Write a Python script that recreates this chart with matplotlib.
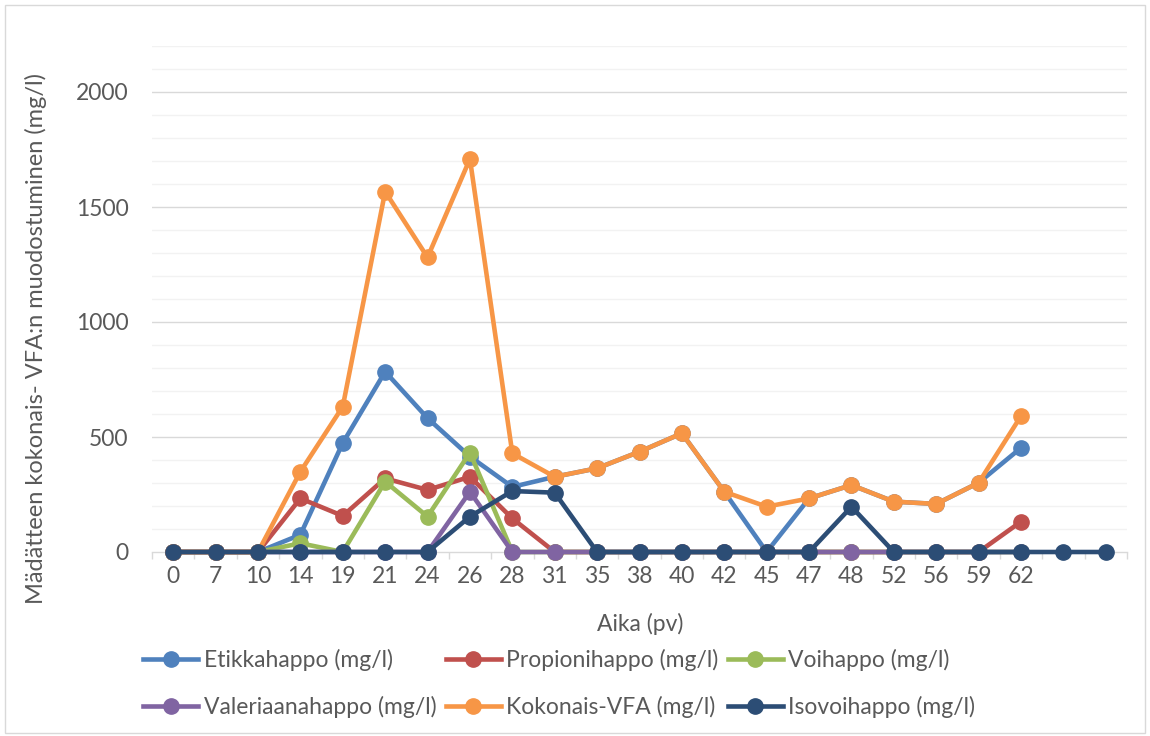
import matplotlib
matplotlib.use("Agg")
import matplotlib.pyplot as plt
from matplotlib.patches import Rectangle
from matplotlib.ticker import FixedLocator

plt.rcParams['font.family'] = ['Lato', 'DejaVu Sans']

# Sampling days (two trailing unlabeled slots)
categories = ["0", "7", "10", "14", "19", "21", "24", "26", "28", "31", "35",
              "38", "40", "42", "45", "47", "48", "52", "56", "59", "62", "", ""]

etikkahappo = [0, 0, 0, 75, 474, 784, 582, 415, 283, 327, 364, 436, 516, 262,
               0, 233, 291, 219, 209, 301, 453]
propionihappo = [0, 0, 0, 233, 157, 320, 270, 327, 146, 0, 0, 0, 0, 0,
                 0, 0, 0, 0, 0, 0, 132]
voihappo = [0, 0, 0, 38, 0, 306, 154, 432, 0, 0, 0, 0, 0, 0,
            0, 0, 0, 0, 0, 0, 0]
valeriaanahappo = [0, 0, 0, 0, 0, 0, 0, 262, 0, 0, 0, 0, 0, 0,
                   0, 0, 0, 0, 0, 0, 0]
kokonais_vfa = [0, 0, 0, 349, 632, 1567, 1281, 1709, 429, 327, 364, 436, 516, 262,
                197, 233, 291, 219, 209, 301, 591]
isovoihappo = [0, 0, 0, 0, 0, 0, 0, 154, 265, 258, 0, 0, 0, 0,
               0, 0, 197, 0, 0, 0, 0, 0, 0]

series = [
    ("Etikkahappo (mg/l)", etikkahappo, "#4F81BD"),
    ("Propionihappo (mg/l)", propionihappo, "#C0504D"),
    ("Voihappo (mg/l)", voihappo, "#9BBB59"),
    ("Valeriaanahappo (mg/l)", valeriaanahappo, "#8064A2"),
    ("Kokonais-VFA (mg/l)", kokonais_vfa, "#F79646"),
    ("Isovoihappo (mg/l)", isovoihappo, "#2C4D75"),
]

FS = 16.5
TXT = "#595959"

W, H = 1150, 736
fig = plt.figure(figsize=(W / 100, H / 100), dpi=100)
ax = fig.add_axes([152 / W, 1 - 552 / H, (1127 - 152) / W, (552 - 46) / H])

handles = {}
for name, vals, col in series:
    x = list(range(len(vals)))
    h, = ax.plot(x, vals, color=col, lw=3.3, marker="o", ms=11,
                 markerfacecolor=col, markeredgecolor=col, label=name,
                 solid_joinstyle="round", clip_on=False)
    handles[name] = h

ax.set_xlim(-0.5, len(categories) - 0.5)
ax.set_ylim(0, 2200)

# gridlines: light every 100, stronger every 500
for v in range(100, 2201, 100):
    if v % 500 == 0:
        ax.axhline(v, color="#D9D9D9", lw=1.0, zorder=0)
    else:
        ax.axhline(v, color="#F2F2F2", lw=1.0, zorder=0)

ax.set_yticks([0, 500, 1000, 1500, 2000])
ax.set_xticks(range(len(categories)))
ax.set_xticklabels(categories)
ax.xaxis.set_minor_locator(FixedLocator([i - 0.5 for i in range(len(categories) + 1)]))
ax.tick_params(axis="x", which="major", length=0, pad=10, labelsize=FS, labelcolor=TXT)
ax.tick_params(axis="x", which="minor", length=5, color="#D9D9D9", width=1)
ax.tick_params(axis="y", which="both", length=0, pad=17, labelsize=FS, labelcolor=TXT)

for s in ["top", "right", "left"]:
    ax.spines[s].set_visible(False)
ax.spines["bottom"].set_color("#D9D9D9")
ax.spines["bottom"].set_linewidth(1.0)
ax.spines["bottom"].set_zorder(0.5)

fig.text(640 / W, 1 - 624 / H, "Aika (pv)", ha="center", va="center",
         fontsize=FS, color=TXT)
fig.text(36 / W, 1 - 338 / H, "Mädätteen kokonais- VFA:n muodostuminen (mg/l)",
         ha="center", va="center", rotation=90, fontsize=17, color=TXT)

order = ["Etikkahappo (mg/l)", "Valeriaanahappo (mg/l)", "Propionihappo (mg/l)",
         "Kokonais-VFA (mg/l)", "Voihappo (mg/l)", "Isovoihappo (mg/l)"]
leg = fig.legend([handles[k] for k in order], order, ncol=3,
                 loc="upper left", bbox_to_anchor=(143 / W, 1 - 649 / H),
                 frameon=False, fontsize=FS, labelcolor=TXT,
                 handlelength=2.4, handletextpad=0.25, columnspacing=0.4,
                 labelspacing=1.1, borderaxespad=0, borderpad=0)

fig.patches.append(Rectangle((5 / W, 3 / H), 1140 / W, 728 / H, transform=fig.transFigure,
                             fill=False, edgecolor="#D9D9D9", lw=1.0))

fig.savefig("out.png", dpi=100)
